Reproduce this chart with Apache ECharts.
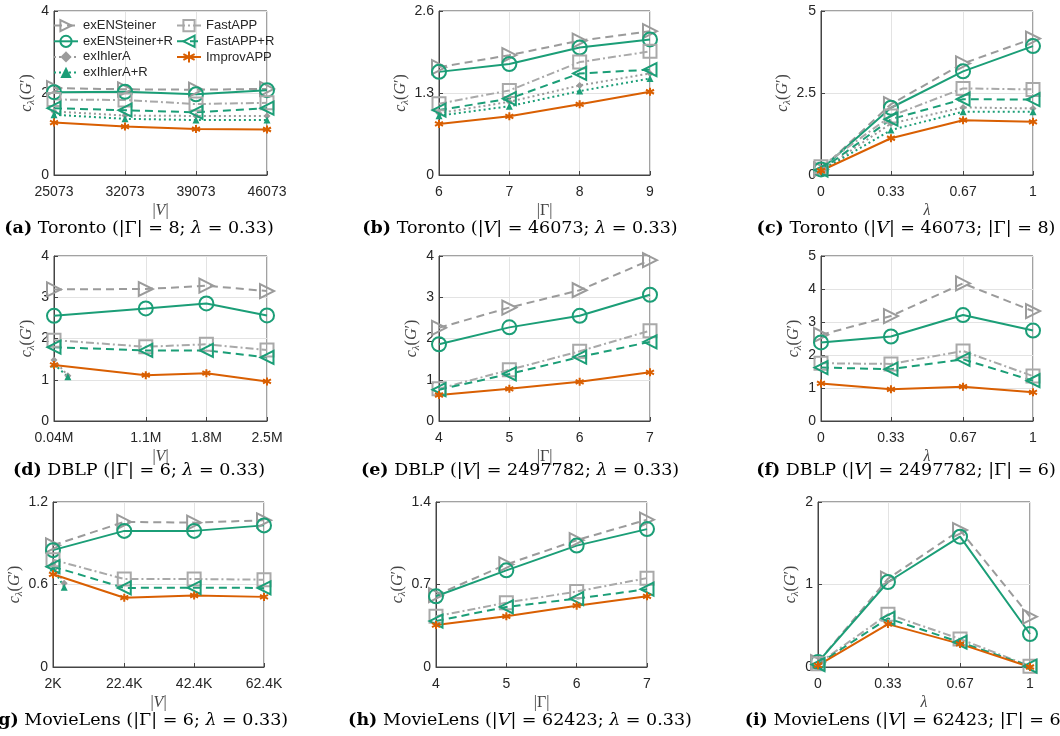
<!DOCTYPE html>
<html>
<head>
<meta charset="utf-8">
<script src="https://cdn.jsdelivr.net/npm/echarts@6/dist/echarts.min.js"></script>
<style>
html, body { margin: 0; padding: 0; background: #fff; }
#chart { width: 1060px; height: 736px; }
</style>
</head>
<body>
<div id="chart"></div>
<script>
var names = ['exENSteiner', 'exENSteiner+R', 'exIhlerA', 'exIhlerA+R', 'FastAPP', 'FastAPP+R', 'ImprovAPP'];

// (a) Toronto, |Γ| = 8, λ = 0.33
var aX     = [25073, 32073, 39073, 46073];
var aENS   = [2.12, 2.09, 2.08, 2.10];
var aENSR  = [2.02, 2.03, 1.97, 2.07];
var aIh    = [1.55, 1.45, 1.44, 1.44];
var aIhR   = [1.47, 1.37, 1.34, 1.34];
var aFast  = [1.84, 1.83, 1.73, 1.76];
var aFastR = [1.63, 1.58, 1.53, 1.63];
var aImp   = [1.28, 1.18, 1.12, 1.11];

// (b) Toronto, |V| = 46073, λ = 0.33
var bX     = [6, 7, 8, 9];
var bENS   = [1.71, 1.90, 2.13, 2.28];
var bENSR  = [1.635, 1.76, 2.02, 2.15];
var bIh    = [0.98, 1.16, 1.42, 1.61];
var bIhR   = [0.94, 1.09, 1.33, 1.53];
var bFast  = [1.13, 1.34, 1.79, 1.96];
var bFastR = [1.03, 1.21, 1.61, 1.67];
var bImp   = [0.81, 0.93, 1.12, 1.32];

// (c) Toronto, |V| = 46073, |Γ| = 8
var cX     = [0, 0.33, 0.67, 1];
var cENS   = [0.17, 2.16, 3.40, 4.16];
var cENSR  = [0.17, 2.05, 3.16, 3.93];
var cIh    = [0.13, 1.57, 2.06, 2.03];
var cIhR   = [0.13, 1.37, 1.93, 1.93];
var cFast  = [0.25, 1.80, 2.64, 2.61];
var cFastR = [0.15, 1.70, 2.31, 2.30];
var cImp   = [0.13, 1.12, 1.67, 1.62];

// (d) DBLP, |Γ| = 6, λ = 0.33  (|V| in millions)
var dX     = [0.04, 1.1, 1.8, 2.5];
var dIhX   = [0.04, 0.2];
var dENS   = [3.19, 3.20, 3.28, 3.15];
var dENSR  = [2.55, 2.73, 2.85, 2.56];
var dIh    = [1.48, 1.10];
var dIhR   = [1.38, 1.07];
var dFast  = [1.96, 1.80, 1.86, 1.72];
var dFastR = [1.79, 1.71, 1.71, 1.54];
var dImp   = [1.36, 1.11, 1.16, 0.96];

// (e) DBLP, |V| = 2497782, λ = 0.33
var eX     = [4, 5, 6, 7];
var eENS   = [2.26, 2.75, 3.17, 3.90];
var eENSR  = [1.86, 2.27, 2.55, 3.06];
var eFast  = [0.78, 1.24, 1.69, 2.19];
var eFastR = [0.76, 1.14, 1.55, 1.92];
var eImp   = [0.63, 0.78, 0.95, 1.18];

// (f) DBLP, |V| = 2497782, |Γ| = 6
var fX     = [0, 0.33, 0.67, 1];
var fENS   = [2.61, 3.18, 4.17, 3.33];
var fENSR  = [2.38, 2.56, 3.21, 2.74];
var fFast  = [1.75, 1.73, 2.12, 1.36];
var fFastR = [1.62, 1.57, 1.87, 1.22];
var fImp   = [1.14, 0.96, 1.04, 0.87];

// (g) MovieLens, |Γ| = 6, λ = 0.33  (|V| in thousands)
var gX     = [2, 22.4, 42.4, 62.4];
var gIhX   = [2, 5.2];
var gENS   = [0.885, 1.055, 1.05, 1.067];
var gENSR  = [0.85, 0.99, 0.99, 1.03];
var gIh    = [0.75, 0.61];
var gIhR   = [0.72, 0.58];
var gFast  = [0.78, 0.64, 0.64, 0.635];
var gFastR = [0.73, 0.575, 0.577, 0.575];
var gImp   = [0.674, 0.504, 0.52, 0.51];

// (h) MovieLens, |V| = 62423, λ = 0.33
var hX     = [4, 5, 6, 7];
var hENS   = [0.61, 0.87, 1.076, 1.25];
var hENSR  = [0.60, 0.82, 1.03, 1.17];
var hFast  = [0.43, 0.546, 0.64, 0.754];
var hFastR = [0.39, 0.51, 0.58, 0.66];
var hImp   = [0.356, 0.43, 0.52, 0.60];

// (i) MovieLens, |V| = 62423, |Γ| = 6
var iX     = [0, 0.33, 0.67, 1];
var iENS   = [0.06, 1.07, 1.66, 0.61];
var iENSR  = [0.06, 1.03, 1.58, 0.40];
var iFast  = [0.04, 0.64, 0.34, 0.01];
var iFastR = [0.03, 0.59, 0.30, 0.01];
var iImp   = [0.02, 0.52, 0.28, 0.0];

var captions = [
    '{b|(a)}{n| Toronto (|Γ| = 8; }{i|λ}{n| = 0.33)}',
    '{b|(b)}{n| Toronto (|}{i|V}{n|| = 46073; }{i|λ}{n| = 0.33)}',
    '{b|(c)}{n| Toronto (|}{i|V}{n|| = 46073; |Γ| = 8)}',
    '{b|(d)}{n| DBLP (|Γ| = 6; }{i|λ}{n| = 0.33)}',
    '{b|(e)}{n| DBLP (|}{i|V}{n|| = 2497782; }{i|λ}{n| = 0.33)}',
    '{b|(f)}{n| DBLP (|}{i|V}{n|| = 2497782; |Γ| = 6)}',
    '{b|(g)}{n| MovieLens (|Γ| = 6; }{i|λ}{n| = 0.33)}',
    '{b|(h)}{n| MovieLens (|}{i|V}{n|| = 62423; }{i|λ}{n| = 0.33)}',
    '{b|(i)}{n| MovieLens (|}{i|V}{n|| = 62423; |Γ| = 6)}'
];

var GRAY = '#9b9b9b', GRAY2 = '#a9a9a9', GREEN = '#1b9e77', ORANGE = '#d95f02';
var STAR = 'path://M5,0L5,10M0.67,2.5L9.33,7.5M0.67,7.5L9.33,2.5';
var SANS = 'Liberation Sans', SERIF = 'Liberation Serif', CAPF = 'DejaVu Serif';

var look = {
    'exENSteiner':   {c: GRAY,   dash: [8, 5],       sym: 'triangle', rot: -90, size: 14, hollow: true},
    'exENSteiner+R': {c: GREEN,  dash: 'solid',      sym: 'circle',   rot: 0,   size: 14, hollow: true},
    'exIhlerA':      {c: GRAY,   dash: [2, 3],       sym: 'diamond',  rot: 0,   size: 7,  hollow: false},
    'exIhlerA+R':    {c: GREEN,  dash: [2, 3],       sym: 'triangle', rot: 0,   size: 7,  hollow: false},
    'FastAPP':       {c: GRAY2,  dash: [8, 3, 2, 3], sym: 'rect',     rot: 0,   size: 13, hollow: true},
    'FastAPP+R':     {c: GREEN,  dash: [8, 5],       sym: 'triangle', rot: 90,  size: 13, hollow: true},
    'ImprovAPP':     {c: ORANGE, dash: 'solid',      sym: STAR,       rot: 0,   size: 8,  hollow: true}
};

var myChart = echarts.init(document.getElementById('chart'));

var mathRich = {
    n: {fontFamily: SERIF, fontSize: 16, color: '#444', lineHeight: 20},
    i: {fontFamily: SERIF, fontStyle: 'italic', fontSize: 16, color: '#444', lineHeight: 20},
    s: {fontFamily: SERIF, fontStyle: 'italic', fontSize: 11, color: '#444', lineHeight: 20, verticalAlign: 'bottom'}
};
var Y_NAME = '{i|c}{s|λ}{n|(}{i|G}{n|′)}';
var V_NAME = '{n||}{i|V}{n||}';
var G_NAME = '{n||Γ|}';
var L_NAME = '{i|λ}';

function fmtPlain(v) { return String(v); }
function fmtM(v) { return v + 'M'; }
function fmtK(v) { return v + 'K'; }

// grid boxes [left, top, width, height]
var panels = [
    {box: [54, 11, 213, 164],  xs: aX, fmt: fmtPlain, xname: V_NAME, ymax: 4,   ystep: 2,
     lines: [[aX, aENS], [aX, aENSR], [aX, aIh], [aX, aIhR], [aX, aFast], [aX, aFastR], [aX, aImp]]},
    {box: [439, 11, 211, 164], xs: bX, fmt: fmtPlain, xname: G_NAME, ymax: 2.6, ystep: 1.3,
     lines: [[bX, bENS], [bX, bENSR], [bX, bIh], [bX, bIhR], [bX, bFast], [bX, bFastR], [bX, bImp]]},
    {box: [821, 11, 212, 164], xs: cX, fmt: fmtPlain, xname: L_NAME, ymax: 5,   ystep: 2.5,
     lines: [[cX, cENS], [cX, cENSR], [cX, cIh], [cX, cIhR], [cX, cFast], [cX, cFastR], [cX, cImp]]},
    {box: [54, 256, 213, 165], xs: dX, fmt: fmtM, xname: V_NAME, ymax: 4, ystep: 1,
     lines: [[dX, dENS], [dX, dENSR], [dIhX, dIh], [dIhX, dIhR], [dX, dFast], [dX, dFastR], [dX, dImp]]},
    {box: [439, 256, 211, 165], xs: eX, fmt: fmtPlain, xname: G_NAME, ymax: 4, ystep: 1,
     lines: [[eX, eENS], [eX, eENSR], null, null, [eX, eFast], [eX, eFastR], [eX, eImp]]},
    {box: [821, 256, 212, 165], xs: fX, fmt: fmtPlain, xname: L_NAME, ymax: 5, ystep: 1,
     lines: [[fX, fENS], [fX, fENSR], null, null, [fX, fFast], [fX, fFastR], [fX, fImp]]},
    {box: [53, 502, 211, 165], xs: gX, fmt: fmtK, xname: V_NAME, ymax: 1.2, ystep: 0.6,
     lines: [[gX, gENS], [gX, gENSR], [gIhX, gIh], [gIhX, gIhR], [gX, gFast], [gX, gFastR], [gX, gImp]]},
    {box: [436, 502, 211, 165], xs: hX, fmt: fmtPlain, xname: G_NAME, ymax: 1.4, ystep: 0.7,
     lines: [[hX, hENS], [hX, hENSR], null, null, [hX, hFast], [hX, hFastR], [hX, hImp]]},
    {box: [818, 502, 212, 165], xs: iX, fmt: fmtPlain, xname: L_NAME, ymax: 2, ystep: 1,
     lines: [[iX, iENS], [iX, iENSR], null, null, [iX, iFast], [iX, iFastR], [iX, iImp]]}
];

var capPos = [[139, 228], [520, 228], [906, 228], [139, 470], [520, 470], [906, 470], [139, 720], [520, 720], [906, 720]];

function makeLine(name, idx, xs, ys) {
    var s = look[name];
    return {
        name: name, type: 'line', xAxisIndex: idx, yAxisIndex: idx,
        data: xs.map(function (x, i) { return [x, ys[i]]; }),
        symbol: s.sym, symbolSize: s.size, symbolRotate: s.rot,
        showAllSymbol: true, clip: false, silent: true, animation: false,
        lineStyle: {color: s.c, width: 2, type: s.dash},
        itemStyle: s.hollow
            ? {color: 'rgba(255,255,255,0)', borderColor: s.c, borderWidth: 2}
            : {color: s.c, borderWidth: 0}
    };
}

var grids = [], xAxes = [], yAxes = [], series = [];
panels.forEach(function (p, k) {
    grids.push({left: p.box[0], top: p.box[1], width: p.box[2], height: p.box[3],
        show: true, borderColor: '#444', borderWidth: 1});
    xAxes.push({
        type: 'value', gridIndex: k, min: p.xs[0], max: p.xs[p.xs.length - 1],
        name: p.xname, nameLocation: 'middle', nameGap: 26,
        nameTextStyle: {rich: mathRich},
        axisLine: {lineStyle: {color: '#444'}},
        axisTick: {inside: true, length: 4, customValues: p.xs, lineStyle: {color: '#444'}},
        axisLabel: {customValues: p.xs, formatter: p.fmt, margin: 10,
            fontFamily: SANS, fontSize: 14, color: '#262626'},
        splitLine: {show: true, lineStyle: {color: '#e3e3e3'}}
    });
    yAxes.push({
        type: 'value', gridIndex: k, min: 0, max: p.ymax, interval: p.ystep,
        name: Y_NAME, nameLocation: 'middle', nameRotate: 90, nameGap: 17,
        nameTextStyle: {rich: mathRich},
        axisLine: {show: true, lineStyle: {color: '#444'}},
        axisTick: {show: true, inside: true, length: 4, lineStyle: {color: '#444'}},
        axisLabel: {margin: 5, fontFamily: SANS, fontSize: 14, color: '#262626'},
        splitLine: {show: true, lineStyle: {color: '#e3e3e3'}}
    });
    p.lines.forEach(function (l, j) {
        if (l) series.push(makeLine(names[j], k, l[0], l[1]));
    });
});

var legendText = {fontFamily: SANS, fontSize: 13, color: '#262626'};
var option = {
    animation: false,
    grid: grids,
    xAxis: xAxes,
    yAxis: yAxes,
    legend: [{
        data: names.slice(0, 4), orient: 'vertical', left: 53, top: 19,
        itemWidth: 24, itemHeight: 14, itemGap: 2.5, selectedMode: false,
        padding: 0, textStyle: legendText
    }, {
        data: names.slice(4), orient: 'vertical', left: 176, top: 19,
        itemWidth: 24, itemHeight: 14, itemGap: 2.5, selectedMode: false,
        padding: 0, textStyle: legendText
    }],
    graphic: captions.map(function (t, k) {
        return {
            type: 'text', x: capPos[k][0], y: capPos[k][1], silent: true,
            style: {
                text: t, align: 'center', verticalAlign: 'middle',
                rich: {
                    b: {fontFamily: CAPF, fontWeight: 'bold', fontSize: 17.5, fill: '#000'},
                    n: {fontFamily: CAPF, fontSize: 17.5, fill: '#000'},
                    i: {fontFamily: CAPF, fontStyle: 'italic', fontSize: 17.5, fill: '#000'}
                }
            }
        };
    }),
    series: series
};
myChart.setOption(option);
</script>
</body>
</html>
